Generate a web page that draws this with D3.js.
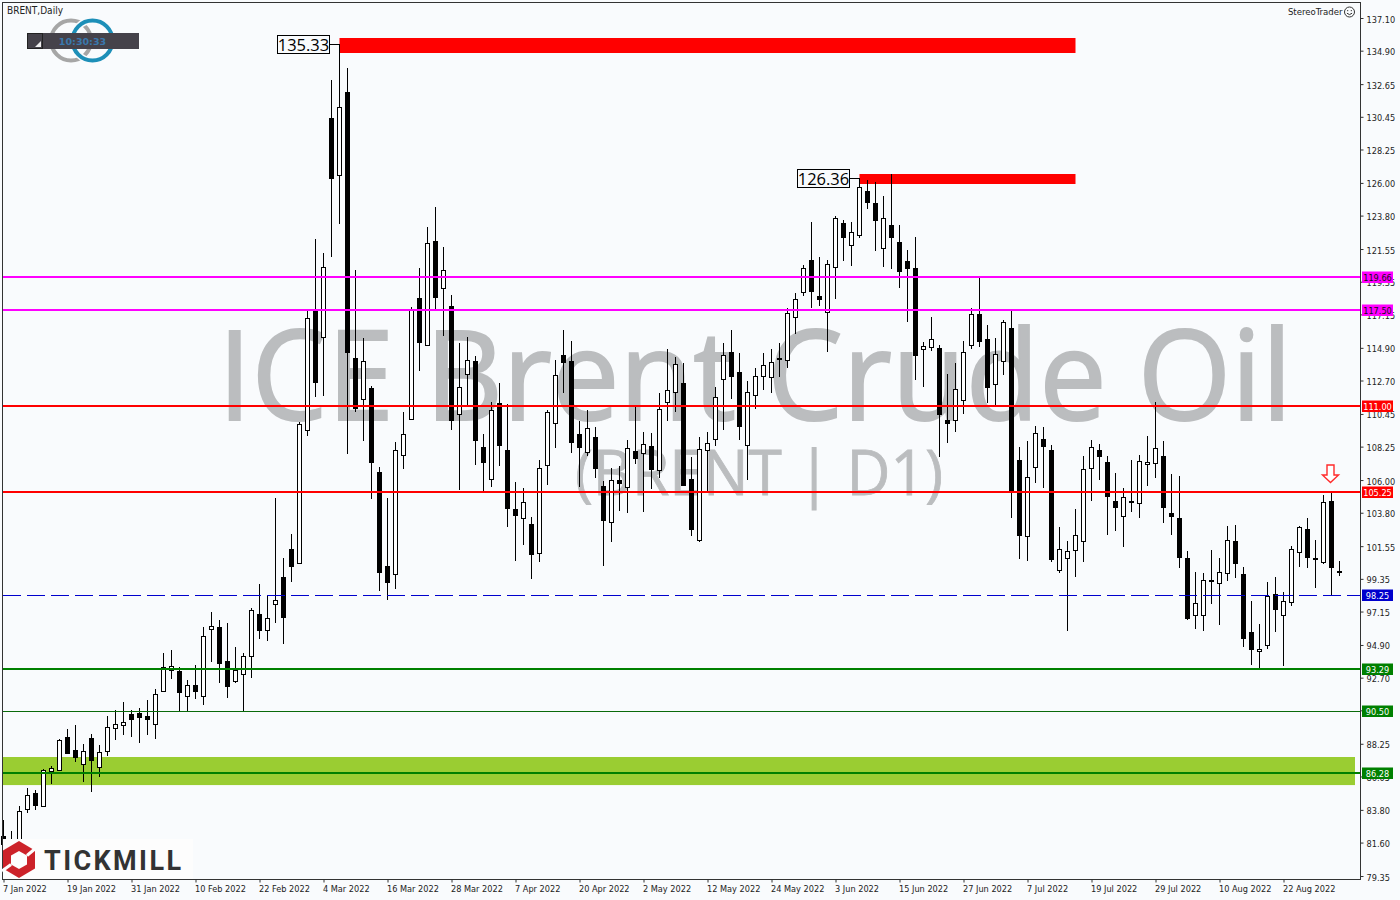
<!DOCTYPE html>
<html>
<head>
<meta charset="utf-8">
<script src="https://cdnjs.cloudflare.com/ajax/libs/d3/7.8.5/d3.min.js"></script>
<style>
  html, body { margin: 0; padding: 0; background: #f9fbfd; overflow: hidden; }
  svg { display: block; }
</style>
</head>
<body>
<svg id="chart" width="1400" height="900"></svg>
<script>
const opens = [
  82.04,81.23,81.43,83.84,84.93,84.08,86.44,86.50,88.70,87.83,
  86.87,88.64,86.66,87.74,89.29,89.49,90.23,90.30,90.12,89.60,
  91.82,93.19,93.12,91.48,92.20,91.48,95.97,96.11,93.80,92.49,
  92.92,94.13,96.96,95.92,97.63,99.45,101.34,100.39,109.35,117.38,
  115.61,130.35,126.55,132.12,114.21,111.43,112.19,106.54,100.21,99.69,
  107.70,110.09,118.25,115.11,122.09,118.95,117.71,110.46,113.16,113.99,
  108.20,106.05,111.16,108.02,104.05,103.42,103.04,101.07,107.03,109.82,
  114.41,113.99,109.08,107.91,108.88,105.58,103.15,106.00,105.55,107.93,
  107.80,108.27,106.65,111.27,111.94,112.53,106.05,101.98,108.04,108.79,
  112.82,114.60,113.25,108.38,111.74,112.98,112.91,114.19,114.06,116.95,
  118.64,120.79,118.39,117.29,120.36,123.28,121.84,122.47,125.43,124.63,
  121.60,123.14,122.00,120.74,120.25,114.80,114.93,114.87,110.02,110.02,
  111.37,115.07,117.15,115.47,112.44,113.99,116.21,107.33,102.21,106.86,
  108.76,108.00,99.92,100.73,101.27,101.88,106.79,108.00,107.19,104.59,
  103.56,104.57,104.43,107.06,107.13,107.60,103.78,103.42,100.73,96.89,
  96.89,99.27,99.05,99.72,101.88,99.65,95.75,94.47,94.92,98.31,
  96.89,97.81,101.13,102.68,100.73,100.50,104.57,99.88
];
const highs = [
  83.12,82.38,84.06,85.27,85.14,86.57,86.75,88.55,89.24,89.51,
  88.23,88.90,88.16,90.12,90.52,91.06,90.52,90.65,91.19,91.93,
  94.36,94.56,93.39,92.54,93.55,96.11,97.12,96.58,96.38,94.76,
  94.36,97.37,99.00,98.26,104.79,100.75,102.37,109.88,117.38,122.22,
  121.26,132.93,135.33,133.73,120.14,115.56,112.33,106.86,104.79,108.54,
  110.58,117.63,120.27,123.01,124.38,121.68,118.45,115.20,115.63,114.35,
  109.10,111.25,112.53,111.12,105.85,105.44,103.51,107.33,110.71,114.06,
  116.08,115.34,109.97,110.71,109.55,105.93,106.79,106.94,108.69,110.94,
  109.21,109.14,111.84,114.82,114.26,113.88,107.55,108.88,109.21,112.24,
  115.22,116.08,114.55,112.66,113.52,114.55,114.82,115.22,117.56,118.57,
  120.47,123.35,120.99,120.81,123.75,123.50,123.37,126.36,126.19,126.06,
  125.10,126.60,123.14,121.48,122.34,115.27,116.95,115.09,113.14,113.88,
  115.36,117.58,119.65,116.41,115.54,116.75,117.38,108.22,108.61,109.62,
  109.55,108.34,102.84,101.88,104.03,107.60,108.67,108.40,107.60,106.45,
  105.44,107.33,107.66,108.94,111.23,108.61,106.41,106.25,101.20,99.79,
  99.72,101.27,100.73,102.89,102.95,100.13,97.84,96.29,99.12,99.45,
  98.44,101.54,102.89,103.42,101.94,104.97,105.17,100.53
];
const lows = [
  80.42,80.56,81.10,83.57,83.79,84.01,85.54,86.44,87.58,87.04,
  85.69,85.02,86.03,87.44,88.50,88.84,88.72,88.32,88.84,88.59,
  91.73,92.63,90.45,90.45,91.26,90.86,93.75,92.34,91.33,92.36,
  90.45,92.67,95.30,95.19,96.38,94.98,99.16,100.39,108.98,111.61,
  111.68,121.03,123.25,107.77,110.60,108.65,104.74,98.55,97.94,98.68,
  106.76,110.09,113.36,115.05,117.44,115.71,109.39,105.35,110.98,107.03,
  105.26,105.55,106.96,102.86,100.57,101.65,99.32,100.50,105.69,108.18,
  111.88,107.84,105.55,107.64,106.16,100.23,101.85,103.93,103.80,107.08,
  103.87,105.42,106.16,109.99,110.60,105.60,102.25,101.85,105.26,108.31,
  109.39,111.47,108.71,106.02,110.80,112.08,111.88,112.95,113.56,115.85,
  118.39,117.60,117.71,114.64,118.20,120.76,120.43,122.31,124.26,121.44,
  120.36,120.22,118.95,116.66,112.75,112.28,114.70,107.57,108.51,109.25,
  110.46,114.84,114.97,111.16,111.05,113.09,103.46,100.70,100.55,105.82,
  105.48,100.50,99.76,95.86,99.49,100.50,104.61,106.02,102.32,102.59,
  101.51,103.87,103.46,105.62,106.16,103.13,102.32,100.10,96.60,95.99,
  95.86,97.68,96.26,99.22,99.43,94.78,93.57,93.37,94.65,95.79,
  93.50,97.54,100.17,100.10,98.75,100.37,98.24,99.56
];
const closes = [
  81.43,81.63,83.70,84.78,84.08,86.46,86.62,88.48,87.58,87.31,
  87.74,87.11,87.67,89.36,89.56,89.69,89.87,90.00,89.87,91.58,
  93.39,93.46,91.68,92.18,91.75,95.48,96.17,93.64,92.09,93.19,
  94.13,97.23,95.86,96.69,97.90,96.73,100.17,109.75,116.89,112.55,
  120.32,126.28,131.09,114.53,110.78,113.99,107.17,99.76,99.09,108.00,
  109.08,117.44,115.24,121.93,118.27,120.12,109.99,112.24,114.06,108.65,
  107.17,110.69,108.31,104.07,103.60,104.50,100.97,106.79,110.56,113.05,
  113.90,108.51,108.18,109.48,106.76,103.26,105.98,105.75,108.14,107.43,
  108.40,106.69,110.76,112.04,113.79,105.62,102.66,108.07,108.47,111.62,
  114.39,112.95,109.59,111.90,112.98,113.72,113.92,114.08,117.22,118.16,
  120.25,118.68,118.14,120.52,123.62,122.31,122.67,125.70,124.67,123.45,
  123.62,122.31,120.02,120.22,114.37,115.00,115.47,110.40,109.79,112.11,
  114.60,117.15,115.31,112.21,114.46,116.62,105.21,102.25,106.18,109.19,
  108.24,100.64,101.34,101.20,102.28,106.72,108.20,107.57,104.88,104.14,
  104.84,104.50,107.26,107.19,108.14,104.14,103.53,100.77,96.67,97.70,
  99.25,99.16,99.79,101.94,100.37,95.32,94.58,94.61,98.17,97.27,
  97.84,101.34,102.82,100.77,100.64,104.50,100.10,99.74
];

const dateLabels = ["7 Jan 2022","19 Jan 2022","31 Jan 2022","10 Feb 2022","22 Feb 2022","4 Mar 2022","16 Mar 2022",
  "28 Mar 2022","7 Apr 2022","20 Apr 2022","2 May 2022","12 May 2022","24 May 2022","3 Jun 2022","15 Jun 2022",
  "27 Jun 2022","7 Jul 2022","19 Jul 2022","29 Jul 2022","10 Aug 2022","22 Aug 2022"];
const priceTicks = [137.10,134.90,132.65,130.45,128.25,126.00,123.80,121.55,119.35,117.15,114.90,112.70,110.45,
  108.25,106.00,103.80,101.55,99.35,97.15,94.90,92.70,90.50,88.25,86.05,83.80,81.60,79.35];

const levelPrices = [119.66,117.50,111.00,105.25,98.25,93.29,90.50,86.28];
const levelColors = ["#ff00ff","#ff00ff","#ff0000","#ff0000","#0000cd","#008000","#0a6a0a","#008000"];
const tagColors = ["#ff00ff","#ff00ff","#ff0000","#ff0000","#0000cd","#008000","#008000","#008000"];
const levelWidths = [2,2,2,2,1,2,1,2];
const levelTagText = ["#111","#111","#fff","#fff","#fff","#fff","#fff","#fff"];
const dashedLevel = 98.25;

// resistance zones: first bar, last bar, top price, bottom price
const zoneFrom = [42,107], zoneTo = [134,134], zoneTop = [135.76,126.60], zoneBottom = [134.75,125.92];
const peakBars = [42,107], peakPrices = [135.33,126.36];
const supportBand = [87.36,85.47];
const signalBar = 166;

const svg = d3.select("#chart");
const bg = "#f9fbfd";
const plotLeft = 2.5, plotRight = 1360.5, plotTop = 2.5, plotBottom = 879.5;

const xScale = d3.scaleLinear().domain([0, 167]).range([3.5, 1339.5]);
const yScale = d3.scaleLinear().domain([79.35, 137.10]).range([876, 18]);
const py = p => Math.round(yScale(p));
// level lines snap slightly lower than the candles, except the dashed one
const levelY = p => p === dashedLevel ? py(p) : Math.round(yScale(p) + 0.35);

svg.append("rect").attr("width", 1400).attr("height", 900).attr("fill", bg);

// support band
svg.append("rect")
  .attr("x", plotLeft)
  .attr("y", yScale(supportBand[0]))
  .attr("width", 1355 - plotLeft)
  .attr("height", yScale(supportBand[1]) - yScale(supportBand[0]))
  .attr("fill", "#9acd32");

// watermark
const wm = svg.append("g").attr("fill", "#bbbdbf").attr("stroke", "#bbbdbf").attr("font-family", "'Open Sans'");
wm.append("text").attr("x", 218).attr("y", 419.5).attr("font-size", 125).attr("stroke-width", 2)
  .attr("textLength", 1074).attr("lengthAdjust", "spacingAndGlyphs").text("ICE Brent Crude Oil");
wm.append("text").attr("x", 575).attr("y", 495).attr("font-size", 63).attr("stroke-width", 0.8)
  .attr("textLength", 368).attr("lengthAdjust", "spacingAndGlyphs").text("(BRENT | D1)");

// red zones
zoneFrom.forEach((d, i) => {
  svg.append("rect")
    .attr("x", xScale(d))
    .attr("y", py(zoneTop[i]))
    .attr("width", xScale(zoneTo[i]) - xScale(d))
    .attr("height", py(zoneBottom[i]) - py(zoneTop[i]))
    .attr("fill", "#ff0000");
});

// candles
const bars = d3.range(opens.length);
const candles = svg.append("g").attr("shape-rendering", "crispEdges");
candles.selectAll("line").data(bars).join("line")
  .attr("x1", d => xScale(d)).attr("x2", d => xScale(d))
  .attr("y1", d => py(highs[d])).attr("y2", d => py(lows[d]))
  .attr("stroke", "#000").attr("stroke-width", 1);
candles.selectAll("rect.down").data(bars.filter(d => closes[d] < opens[d])).join("rect")
  .attr("class", "down")
  .attr("x", d => xScale(d) - 2.5).attr("width", 5)
  .attr("y", d => py(opens[d]))
  .attr("height", d => Math.max(2, py(closes[d]) - py(opens[d])))
  .attr("fill", "#000");
candles.selectAll("rect.up").data(bars.filter(d => closes[d] >= opens[d])).join("rect")
  .attr("class", "up")
  .attr("x", d => xScale(d) - 2).attr("width", 4)
  .attr("y", d => py(closes[d]) + 0.5)
  .attr("height", d => Math.max(2, py(opens[d]) - py(closes[d])))
  .attr("fill", "#fff").attr("stroke", "#000").attr("stroke-width", 1);

// horizontal levels
levelPrices.forEach((p, i) => {
  const w = levelWidths[i];
  const y = levelY(p) + (w === 1 ? 0.5 : 0);
  svg.append("line")
    .attr("x1", 3).attr("x2", plotRight)
    .attr("y1", y).attr("y2", y)
    .attr("stroke", levelColors[i])
    .attr("stroke-width", w)
    .attr("stroke-dasharray", p === dashedLevel ? "18,6" : null)
    .attr("shape-rendering", "crispEdges");
});

// price labels at the two peaks
peakBars.forEach((d, i) => {
  const y = py(peakPrices[i]);
  const boxRight = xScale(d) - 10;
  svg.append("line").attr("x1", boxRight).attr("x2", xScale(d))
    .attr("y1", y + 0.5).attr("y2", y + 0.5).attr("stroke", "#000");
  svg.append("rect")
    .attr("x", boxRight - 52).attr("y", y - 8.5)
    .attr("width", 52).attr("height", 18)
    .attr("fill", bg).attr("stroke", "#000");
  svg.append("text")
    .attr("x", boxRight - 26).attr("y", y + 6.5)
    .attr("text-anchor", "middle")
    .attr("font-family", "'Open Sans'").attr("font-size", 16.5).attr("fill", "#000")
    .text(peakPrices[i].toFixed(2));
});

// down arrow over the last swing high
const ax = xScale(signalBar) - 1;
svg.append("path")
  .attr("d", `M${ax - 3.5},465 H${ax + 3.5} V475 H${ax + 8} L${ax},482.5 L${ax - 8},475 H${ax - 3.5} Z`)
  .attr("fill", "#fff").attr("stroke", "#ff2a2a").attr("stroke-width", 1.4);

// frame
svg.append("rect")
  .attr("x", plotLeft).attr("y", plotTop)
  .attr("width", plotRight - plotLeft).attr("height", plotBottom - plotTop)
  .attr("fill", "none").attr("stroke", "#333").attr("shape-rendering", "crispEdges");

// axes
const axisFont = "'DejaVu Sans Condensed', 'DejaVu Sans'";
const axisSize = 9.1;
// the 90.50 tick sits exactly under its level tag, which shows the same number
const yAxis = d3.axisRight(yScale).tickValues(priceTicks)
  .tickFormat(d => d === 90.50 ? "" : d3.format(".2f")(d))
  .tickSize(3).tickPadding(3);
const yG = svg.append("g").attr("transform", `translate(${plotRight}, 0)`).call(yAxis);
yG.select(".domain").remove();
yG.selectAll("text").attr("font-family", axisFont).attr("font-size", axisSize).attr("fill", "#222").attr("dy", "4px");
yG.selectAll("line").attr("stroke", "#333");

const xAxis = d3.axisBottom(xScale)
  .tickValues(d3.range(0, 168, 8))
  .tickFormat((d, i) => dateLabels[i])
  .tickSize(3).tickPadding(3);
const xG = svg.append("g").attr("transform", `translate(0, ${plotBottom})`).call(xAxis);
xG.select(".domain").remove();
xG.selectAll("text")
  .attr("text-anchor", "start")
  .attr("x", -1)
  .attr("font-family", axisFont).attr("font-size", axisSize).attr("fill", "#222");
xG.selectAll("line").attr("stroke", "#333");

// level tags on the price axis
levelPrices.forEach((p, i) => {
  const y = levelY(p);
  svg.append("rect")
    .attr("x", 1362).attr("y", y - 5.5)
    .attr("width", 31).attr("height", 11.5)
    .attr("fill", tagColors[i]);
  svg.append("text")
    .attr("x", 1377.5).attr("y", y + 3.7)
    .attr("text-anchor", "middle")
    .attr("font-family", axisFont).attr("font-size", axisSize)
    .attr("fill", levelTagText[i])
    .text(p.toFixed(2));
});

// top labels
svg.append("text").attr("x", 7).attr("y", 14)
  .attr("font-family", axisFont).attr("font-size", 10).attr("fill", "#222").text("BRENT,Daily");
svg.append("text").attr("x", 1342.5).attr("y", 15).attr("text-anchor", "end")
  .attr("font-family", axisFont).attr("font-size", 9.5).attr("fill", "#222").text("StereoTrader");
const smile = svg.append("g").attr("transform", "translate(1349.5, 12)")
  .attr("fill", "none").attr("stroke", "#333");
smile.append("circle").attr("r", 5);
smile.append("path").attr("d", "M-2.6,1.2 Q0,4 2.6,1.2");
smile.append("path").attr("d", "M-1.8,-2 v1.2 M1.8,-2 v1.2");

// clock panel with the two rings behind it
const rings = svg.append("g").attr("fill", "none").attr("stroke-width", 4);
rings.append("circle").attr("cx", 71).attr("cy", 40.5).attr("r", 20).attr("stroke", "#a6a6a6");
rings.append("circle").attr("cx", 92.5).attr("cy", 40.5).attr("r", 20).attr("stroke", bg).attr("stroke-width", 7);
rings.append("circle").attr("cx", 92.5).attr("cy", 40.5).attr("r", 20).attr("stroke", "#1d8fb8");
svg.append("rect").attr("x", 27).attr("y", 33).attr("width", 112).attr("height", 16).attr("fill", "#45424a");
svg.append("rect").attr("x", 27.5).attr("y", 33.5).attr("width", 15).attr("height", 15).attr("fill", "#45424a").attr("stroke", "#222");
svg.append("path").attr("d", "M35,47 L41,47 L41,41 Z").attr("fill", "#eee");
svg.append("text").attr("x", 82.5).attr("y", 44.5).attr("text-anchor", "middle")
  .attr("font-family", "'DejaVu Sans'").attr("font-size", 9.5).attr("font-weight", "bold")
  .attr("fill", "#3a78ad").text("10:30:33");

// tickmill logo box
svg.append("rect").attr("x", 3).attr("y", 839).attr("width", 190).attr("height", 40).attr("fill", "#fdfdfd");
const hex = svg.append("g");
hex.append("path").attr("d", "M19,841 L35,850.5 V868.5 L19,878 L3,868.5 V850.5 Z").attr("fill", "#cc2229");
hex.append("path").attr("d", "M19,851 L27,855.5 V864.5 L19,869 L11,864.5 V855.5 Z").attr("fill", "#fdfdfd");
hex.append("path").attr("d", "M36,848 L27,855.5 M2,871 L11,864.5").attr("stroke", "#fdfdfd").attr("stroke-width", 3);
svg.append("text").attr("x", 44).attr("y", 869.5)
  .attr("font-family", "Roboto").attr("font-weight", "bold").attr("font-size", 27)
  .attr("letter-spacing", 2.4).attr("fill", "#333").text("TICKMILL");
</script>
</body>
</html>
